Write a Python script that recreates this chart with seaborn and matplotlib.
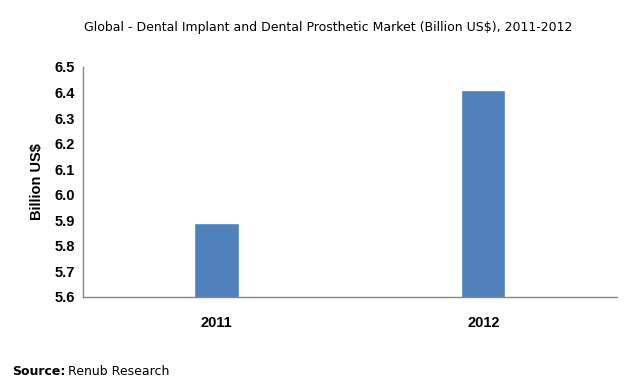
import matplotlib
matplotlib.use("Agg")
import matplotlib.pyplot as plt
import seaborn as sns
import pandas as pd

# Data
years = ["2011", "2012"]
market = [5.89, 6.41]
y_ticks = [5.6, 5.7, 5.8, 5.9, 6.0, 6.1, 6.2, 6.3, 6.4, 6.5]

df = pd.DataFrame({"year": years, "market": market})

sns.set_style("white")
plt.rcParams["font.family"] = ["DejaVu Sans"]
plt.rcParams["text.color"] = "black"
plt.rcParams["xtick.labelcolor"] = "black"
plt.rcParams["ytick.labelcolor"] = "black"
plt.rcParams["axes.labelcolor"] = "black"

fig = plt.figure(figsize=(6.32, 3.87), dpi=100)
ax = fig.add_axes([0.1313, 0.2326, 0.8449, 0.5943])

sns.barplot(data=df, x="year", y="market", color="#4f81bd", width=0.165,
            saturation=1, ax=ax)

ax.set_ylim(5.6, 6.5)
ax.set_yticks(y_ticks)
ax.set_yticklabels([f"{t:.1f}" for t in y_ticks], fontfamily="Liberation Sans",
                   fontweight="bold", fontsize=10.5, color="black")
ax.set_xlim(-0.5, 1.5)
ax.set_xticks([0, 1])
ax.set_xticklabels(years, fontfamily="Liberation Sans", fontweight="bold",
                   fontsize=10.5, color="black")
ax.set_xticks([-0.5, 0.5, 1.5], minor=True)
ax.tick_params(axis="x", which="major", length=0, pad=14)
ax.tick_params(axis="x", which="minor", length=4, color="#868686", direction="out")
ax.tick_params(axis="y", length=4, color="#868686", direction="out", pad=2)

for side in ["top", "right"]:
    ax.spines[side].set_visible(False)
for side in ["left", "bottom"]:
    ax.spines[side].set_color("#868686")
    ax.spines[side].set_linewidth(1)

ax.set_xlabel("")
ax.set_ylabel("Billion US$", fontfamily="Liberation Sans", fontweight="bold",
              fontsize=10.5, labelpad=7, color="black")

fig.text(0.520, 0.928, "Global - Dental Implant and Dental Prosthetic Market (Billion US$), 2011-2012",
         ha="center", va="center", fontsize=9, color="black")
fig.text(0.019, 0.041, "Source:", ha="left", va="center", fontsize=9,
         fontweight="bold", color="black")
fig.text(0.107, 0.041, "Renub Research", ha="left", va="center", fontsize=9,
         color="black")

fig.savefig("out.png", dpi=100)
